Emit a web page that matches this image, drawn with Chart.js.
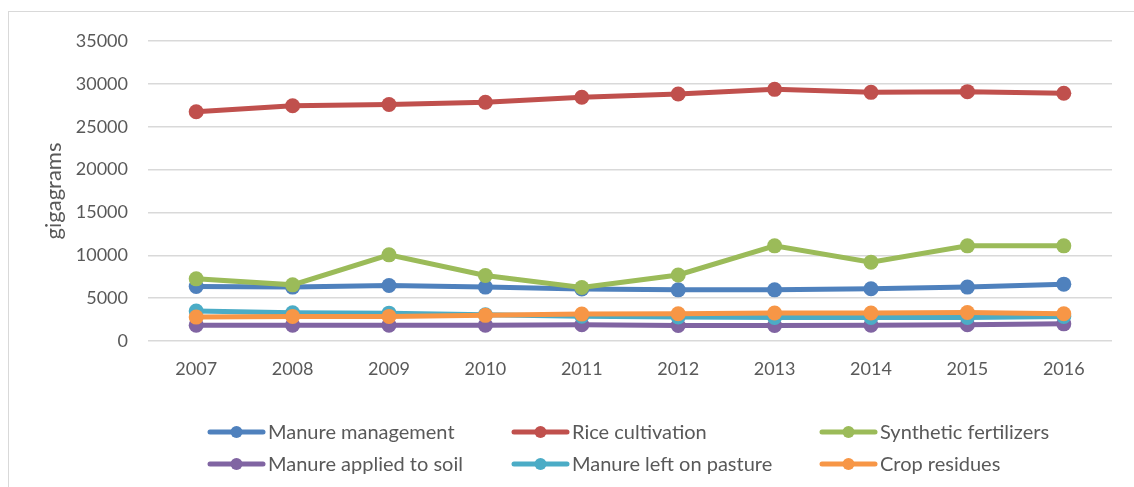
<!DOCTYPE html>
<html>
<head>
<meta charset="utf-8">
<script src="https://cdn.jsdelivr.net/npm/chart.js@4/dist/chart.umd.min.js"></script>
<style>
  html, body { margin: 0; padding: 0; background: #fff; }
  #wrap { position: relative; width: 1134px; height: 487px; }
</style>
</head>
<body>
<div id="wrap"><canvas id="c" width="1134" height="487"></canvas></div>
<script>
// Annual emissions by agricultural source, gigagrams
const years = ['2007', '2008', '2009', '2010', '2011', '2012', '2013', '2014', '2015', '2016'];

const manureManagement = [6360, 6290, 6470, 6290, 6060, 5970, 5970, 6090, 6290, 6630];
const riceCultivation  = [26750, 27450, 27600, 27850, 28430, 28820, 29360, 29010, 29090, 28900];
const syntheticFert    = [7250, 6550, 10050, 7640, 6240, 7700, 11100, 9200, 11100, 11100];
const manureSoil       = [1850, 1850, 1850, 1850, 1900, 1800, 1800, 1850, 1900, 2000];
const manurePasture    = [3500, 3300, 3250, 3050, 2900, 2800, 2750, 2750, 2750, 2850];
const cropResidues     = [2790, 2870, 2870, 2990, 3140, 3180, 3260, 3260, 3330, 3180];

const seriesNames = ['Manure management', 'Rice cultivation', 'Synthetic fertilizers',
                     'Manure applied to soil', 'Manure left on pasture', 'Crop residues'];
const seriesColors = ['#4F81BD', '#C0504D', '#9BBB59', '#8064A2', '#4BACC6', '#F79646'];
const seriesValues = [manureManagement, riceCultivation, syntheticFert,
                      manureSoil, manurePasture, cropResidues];

const yTicks = [0, 5000, 10000, 15000, 20000, 25000, 30000, 35000];

const FONT = 'Lato, "Open Sans", sans-serif';
const TEXT = '#595959';

// outer frame of the chart
const framePlugin = {
  id: 'frame',
  beforeDraw(chart) {
    const ctx = chart.ctx;
    ctx.save();
    ctx.strokeStyle = '#d9d9d9';
    ctx.lineWidth = 1;
    ctx.strokeRect(8.5, 11.5, 1200, 600);
    ctx.restore();
  }
};

// three-column legend with line-and-marker swatches
const gridLegend = {
  id: 'gridLegend',
  afterDraw(chart) {
    const ctx = chart.ctx;
    const cols = [208, 512, 820];
    const rows = [432, 464];
    ctx.save();
    ctx.font = '20px ' + FONT;
    ctx.textBaseline = 'middle';
    ctx.textAlign = 'left';
    chart.data.datasets.forEach((ds, i) => {
      const x = cols[i % 3];
      const y = rows[Math.floor(i / 3)];
      ctx.strokeStyle = ds.borderColor;
      ctx.lineWidth = 5;
      ctx.lineCap = 'round';
      ctx.beginPath();
      ctx.moveTo(x + 2, y);
      ctx.lineTo(x + 55, y);
      ctx.stroke();
      ctx.fillStyle = ds.borderColor;
      ctx.beginPath();
      ctx.arc(x + 28.5, y, 6, 0, Math.PI * 2);
      ctx.fill();
      ctx.fillStyle = TEXT;
      ctx.fillText(ds.label, x + 60, y + 1);
    });
    ctx.restore();
  }
};

const datasets = seriesNames.map((name, i) => ({
  label: name,
  data: seriesValues[i],
  borderColor: seriesColors[i],
  backgroundColor: seriesColors[i],
  borderWidth: 5,
  pointRadius: 7.5,
  pointHoverRadius: 7.5,
  pointBorderWidth: 0,
  tension: 0,
  order: seriesNames.length - i
}));

new Chart(document.getElementById('c'), {
  type: 'line',
  data: { labels: years, datasets },
  plugins: [framePlugin, gridLegend],
  options: {
    responsive: false,
    animation: false,
    events: [],
    layout: { padding: { top: 41, right: 22, bottom: 0, left: 0 } },
    plugins: { legend: { display: false }, tooltip: { enabled: false } },
    scales: {
      x: {
        type: 'category',
        offset: true,
        grid: { display: false, drawTicks: false },
        border: { display: false },
        ticks: { color: TEXT, font: { family: FONT, size: 18 }, padding: 17, maxRotation: 0 },
        afterFit(scale) { scale.height = 146; }
      },
      y: {
        min: 0,
        max: 35000,
        afterBuildTicks(scale) { scale.ticks = yTicks.map(v => ({ value: v })); },
        grid: { color: '#d9d9d9', lineWidth: 1.5, drawTicks: false },
        border: { display: false },
        ticks: {
          color: TEXT,
          font: { family: FONT, size: 18 },
          padding: 20,
          callback: (v) => String(v)
        },
        title: {
          display: true,
          text: 'gigagrams',
          color: TEXT,
          font: { family: FONT, size: 22 },
          padding: { top: 41, bottom: 0 }
        },
        afterFit(scale) { scale.width = 148; }
      }
    }
  }
});
</script>
</body>
</html>
